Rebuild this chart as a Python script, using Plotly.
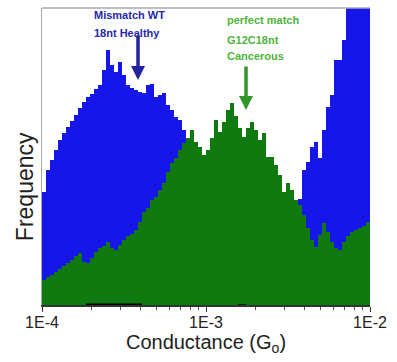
import numpy as np
import plotly.graph_objects as go

# Conductance bins (log-spaced between 1E-4 and 1E-2 G0)
n_bins = 82
bin_edges = np.logspace(-4, -2, n_bins + 1)

# Frequency (arbitrary units) per bin
mismatch_wt = [113, 135, 145, 155, 165, 172, 178, 184, 190, 197,
               203, 208, 211, 216, 220, 235, 255, 240, 233, 243,
               230, 220, 217, 215, 213, 212, 220, 221, 208, 210,
               212, 200, 195, 188, 185, 175, 167, 160, 150, 140,
               130, 122, 115, 110, 105, 100, 96, 92, 90, 88,
               87, 86, 86, 87, 88, 90, 92, 94, 96, 98,
               100, 102, 104, 104, 106, 135, 143, 158, 163, 147,
               175, 198, 210, 245, 245, 265, 320, 330, 340, 345,
               350, 355]

perfect_match = [25, 28, 30, 33, 36, 39, 42, 45, 49, 52,
                 43, 42, 47, 53, 57, 59, 63, 57, 55, 60,
                 65, 69, 71, 75, 83, 93, 97, 105, 108, 115,
                 122, 133, 142, 147, 155, 162, 167, 175, 163, 158,
                 150, 155, 167, 185, 173, 183, 195, 202, 189, 177,
                 168, 177, 183, 175, 165, 172, 148, 148, 140, 130,
                 113, 122, 115, 105, 100, 90, 77, 65, 58, 70,
                 82, 73, 63, 57, 55, 63, 69, 73, 75, 77,
                 79, 83]

background = [0] * 11 + [1.6] * 14 + [0] * 24 + [0.8] * 2 + [0] * 31

major_ticks = [1e-4, 1e-3, 1e-2]
major_labels = ["1E-4", "1E-3", "1E-2"]
minor_ticks = [m * 10.0 ** e for e in (-4, -3) for m in range(2, 10)]

y_max = 297

blue = "rgb(22,22,232)"
green = "rgb(16,122,16)"


def step(values):
    xs = list(bin_edges)
    ys = list(values) + [values[-1]]
    return xs, ys


fig = go.Figure()
for vals, col in ((mismatch_wt, blue), (perfect_match, green), (background, "black")):
    xs, ys = step(vals)
    fig.add_trace(go.Scatter(
        x=xs, y=ys, mode="lines", line=dict(shape="hv", width=0, color=col),
        fill="tozeroy", fillcolor=col, hoverinfo="skip", showlegend=False,
    ))

fig.update_layout(
    width=397, height=362,
    margin=dict(l=42, r=27, t=8, b=57),
    paper_bgcolor="white", plot_bgcolor="white",
    font=dict(family="Liberation Sans, Arial, sans-serif", color="#222"),
    xaxis=dict(
        type="log", range=[-4, -2], showgrid=False, zeroline=False,
        showline=True, linecolor="#333", linewidth=1.5,
        ticks="outside", ticklen=5, tickcolor="#333",
        tickvals=major_ticks, ticktext=major_labels,
        tickfont=dict(size=16, color="#222"),
        ticklabelstandoff=-3,
        minor=dict(tickvals=minor_ticks, ticks="outside", ticklen=3, tickcolor="#555"),
        title=dict(text="Conductance (G<sub>o</sub>)", font=dict(size=20, color="#222"), standoff=2),
    ),
    yaxis=dict(
        range=[0, y_max], showgrid=False, zeroline=False, showticklabels=False,
        showline=True, linecolor="#aaa", linewidth=1, ticks="",
    ),
    shapes=[dict(type="line", xref="paper", yref="paper", x0=0, x1=1, y0=1, y1=1,
                 line=dict(color="#aaa", width=1.5))],
    annotations=[
        dict(text="Frequency", xref="paper", yref="paper", x=-0.052, y=0.40,
             textangle=-90, showarrow=False, font=dict(size=23, color="#222"),
             xanchor="center", yanchor="middle"),
        dict(text="<b>Mismatch WT</b>", xref="paper", yref="paper", x=0.152, y=0.977,
             xanchor="left", yanchor="middle", showarrow=False,
             font=dict(size=11, color="rgb(40,40,170)")),
        dict(text="<b>18nt Healthy</b>", xref="paper", yref="paper", x=0.152, y=0.916,
             xanchor="left", yanchor="middle", showarrow=False,
             font=dict(size=11, color="rgb(40,40,170)")),
        dict(text="<b>perfect match</b>", xref="paper", yref="paper", x=0.558, y=0.96,
             xanchor="left", yanchor="middle", showarrow=False,
             font=dict(size=11, color="rgb(80,180,60)")),
        dict(text="<b>G12C18nt</b>", xref="paper", yref="paper", x=0.558, y=0.892,
             xanchor="left", yanchor="middle", showarrow=False,
             font=dict(size=11, color="rgb(80,180,60)")),
        dict(text="<b>Cancerous</b>", xref="paper", yref="paper", x=0.558, y=0.838,
             xanchor="left", yanchor="middle", showarrow=False,
             font=dict(size=11, color="rgb(80,180,60)")),
        dict(x=np.log10(bin_edges[24]), y=225, xref="x", yref="y",
             ax=0, ay=-46, showarrow=True, arrowhead=2, arrowsize=0.8, arrowwidth=3.5,
             arrowcolor="rgb(35,35,160)", text=""),
        dict(x=np.log10(bin_edges[51]), y=195, xref="x", yref="y",
             ax=0, ay=-45, showarrow=True, arrowhead=2, arrowsize=0.8, arrowwidth=3.5,
             arrowcolor="rgb(50,150,40)", text=""),
    ],
)

fig.write_html("out.html")
